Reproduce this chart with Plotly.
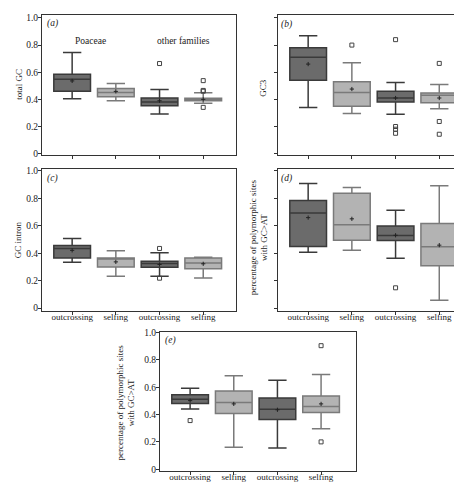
import plotly.graph_objects as go

# ---------------- data ----------------
categories = ["outcrossing", "selfing", "outcrossing", "selfing"]
group_labels = ["Poaceae", "other families"]
panel_labels = ["(a)", "(b)", "(c)", "(d)", "(e)"]
y_titles = ["total GC", "GC3", "GC intron",
            "percentage of polymorphic sites<br>with GC>AT",
            "percentage of polymorphic sites<br>with GC>AT"]
y_ticks = [0, 0.2, 0.4, 0.6, 0.8, 1.0]
y_ticktext = ["0", "0.2", "0.4", "0.6", "0.8", "1.0"]

# panel (a) total GC
a_q1 = [0.459, 0.420, 0.353, 0.389]
a_med = [0.549, 0.451, 0.380, 0.393]
a_q3 = [0.585, 0.480, 0.410, 0.408]
a_lo = [0.404, 0.390, 0.292, 0.372]
a_hi = [0.746, 0.517, 0.473, 0.449]
a_mean = [0.536, 0.459, 0.390, 0.400]
a_out = [[], [], [0.664], [0.538, 0.466, 0.460, 0.341]]

# panel (b) GC3
b_q1 = [0.540, 0.350, 0.380, 0.375]
b_med = [0.710, 0.450, 0.410, 0.430]
b_q3 = [0.780, 0.530, 0.460, 0.447]
b_lo = [0.340, 0.295, 0.290, 0.330]
b_hi = [0.868, 0.670, 0.524, 0.510]
b_mean = [0.660, 0.476, 0.410, 0.410]
b_out = [[], [0.800], [0.840, 0.200, 0.180, 0.150], [0.665, 0.237, 0.143]]

# panel (c) GC intron
c_q1 = [0.366, 0.299, 0.297, 0.287]
c_med = [0.435, 0.361, 0.325, 0.328]
c_q3 = [0.457, 0.365, 0.342, 0.366]
c_lo = [0.335, 0.232, 0.232, 0.220]
c_hi = [0.507, 0.419, 0.404, 0.370]
c_mean = [0.421, 0.337, 0.318, 0.323]
c_out = [[], [], [0.435, 0.218], []]

# panel (d) polymorphic GC>AT
d_q1 = [0.450, 0.495, 0.493, 0.309]
d_med = [0.694, 0.608, 0.529, 0.447]
d_q3 = [0.785, 0.837, 0.598, 0.617]
d_lo = [0.407, 0.421, 0.364, 0.057]
d_hi = [0.909, 0.880, 0.713, 0.892]
d_mean = [0.660, 0.651, 0.531, 0.459]
d_out = [[], [], [0.148], []]

# panel (e) polymorphic GC>AT
e_q1 = [0.481, 0.407, 0.364, 0.416]
e_med = [0.512, 0.488, 0.438, 0.459]
e_q3 = [0.545, 0.572, 0.522, 0.536]
e_lo = [0.440, 0.160, 0.155, 0.297]
e_hi = [0.593, 0.684, 0.651, 0.694]
e_mean = [0.502, 0.478, 0.435, 0.478]
e_out = [[0.356], [], [], [0.904, 0.200]]

panels = [
    (a_q1, a_med, a_q3, a_lo, a_hi, a_mean, a_out),
    (b_q1, b_med, b_q3, b_lo, b_hi, b_mean, b_out),
    (c_q1, c_med, c_q3, c_lo, c_hi, c_mean, c_out),
    (d_q1, d_med, d_q3, d_lo, d_hi, d_mean, d_out),
    (e_q1, e_med, e_q3, e_lo, e_hi, e_mean, e_out),
]

# ---------------- style ----------------
W, H = 462, 483
FONT = "Liberation Serif"
TXT = "#222222"
fills = ["#6b6b6b", "#b3b3b3", "#6b6b6b", "#b3b3b3"]
lines = ["#3a3a3a", "#7a7a7a", "#3a3a3a", "#7a7a7a"]
FRAME = "#333333"

# pixel boxes of each panel: (left, right, top, bottom)
px = [(34, 228, 3, 145), (270, 461, 3, 145), (34, 228, 160, 304),
      (270, 461, 160, 304), (152, 348, 325, 467)]
xranges = [[-0.69, 3.75], [-0.69, 3.68], [-0.69, 3.75], [-0.69, 3.68], [-0.69, 3.80]]
yranges = [[-0.007, 1.022], [-0.007, 1.022], [-0.021, 1.012], [-0.021, 1.012], [-0.015, 1.007]]
show_xlabels = [False, False, True, True, True]
show_ylabels = [True, False, True, False, True]

fig = go.Figure()

for i, (q1, med, q3, lo, hi, mn, outs) in enumerate(panels):
    sfx = "" if i == 0 else str(i + 1)
    xa, ya = "x" + sfx, "y" + sfx
    for j in range(4):
        fig.add_trace(go.Box(
            x=[j], q1=[q1[j]], median=[med[j]], q3=[q3[j]],
            lowerfence=[lo[j]], upperfence=[hi[j]],
            width=0.84, whiskerwidth=0.5,
            fillcolor=fills[j], line=dict(color=lines[j], width=1.5),
            boxpoints=False, showlegend=False, hoverinfo="skip",
            xaxis=xa, yaxis=ya))
        if outs[j]:
            fig.add_trace(go.Scatter(
                x=[j] * len(outs[j]), y=outs[j], mode="markers",
                marker=dict(symbol="square-open", size=4, color="#444444",
                            line=dict(width=1, color="#444444")),
                showlegend=False, hoverinfo="skip", xaxis=xa, yaxis=ya))
    fig.add_trace(go.Scatter(
        x=list(range(4)), y=mn, mode="markers",
        marker=dict(symbol="cross-thin", size=3,
                    line=dict(width=1, color="#222222")),
        showlegend=False, hoverinfo="skip", xaxis=xa, yaxis=ya))

layout = dict(width=W, height=H, margin=dict(l=0, r=0, t=0, b=0),
              paper_bgcolor="white", plot_bgcolor="white",
              font=dict(family=FONT, size=10, color=TXT))

for i in range(5):
    sfx = "" if i == 0 else str(i + 1)
    l, r, t, b = px[i]
    layout["xaxis" + sfx] = dict(
        domain=[l / W, r / W], range=xranges[i], anchor="y" + sfx,
        tickvals=[0, 1, 2, 3], ticktext=categories,
        showticklabels=show_xlabels[i], ticks="outside", ticklen=3,
        tickcolor=FRAME, showline=True, linecolor=FRAME, linewidth=1,
        mirror=True, showgrid=False, zeroline=False, ticklabelstandoff=-6,
        tickfont=dict(family=FONT, size=9, color=TXT))
    layout["yaxis" + sfx] = dict(
        domain=[1 - b / H, 1 - t / H], range=yranges[i], anchor="x" + sfx,
        tickvals=y_ticks, ticktext=y_ticktext,
        showticklabels=show_ylabels[i], ticks="outside", ticklen=3,
        tickcolor=FRAME, showline=True, linecolor=FRAME, linewidth=1,
        mirror=True, showgrid=False, zeroline=False, ticklabelstandoff=-2,
        tickfont=dict(family=FONT, size=9.5, color=TXT))

fig.update_layout(**layout)

def note(x, y, text, size, angle=0):
    fig.add_annotation(x=x / W, y=1 - y / H, xref="paper", yref="paper",
                       xanchor="center", yanchor="middle",
                       text=text, showarrow=False, textangle=angle,
                       font=dict(family=FONT, size=size, color=TXT))

# panel letters
letter_pos = [(44, 12), (278, 13), (44, 169), (278, 169), (162, 334)]
for k in range(5):
    note(*letter_pos[k], "<i>" + panel_labels[k] + "</i>", 9.5)

# group labels in panel (a)
for txt, x in zip(group_labels, [82, 175]):
    note(x, 29, txt, 9.5)

# y axis titles
title_pos = [(11, 74), (255, 77), (10, 232), (251, 229), (118, 397)]
for k in range(5):
    note(*title_pos[k], y_titles[k], 9, angle=-90)

fig.write_html("out.html")
